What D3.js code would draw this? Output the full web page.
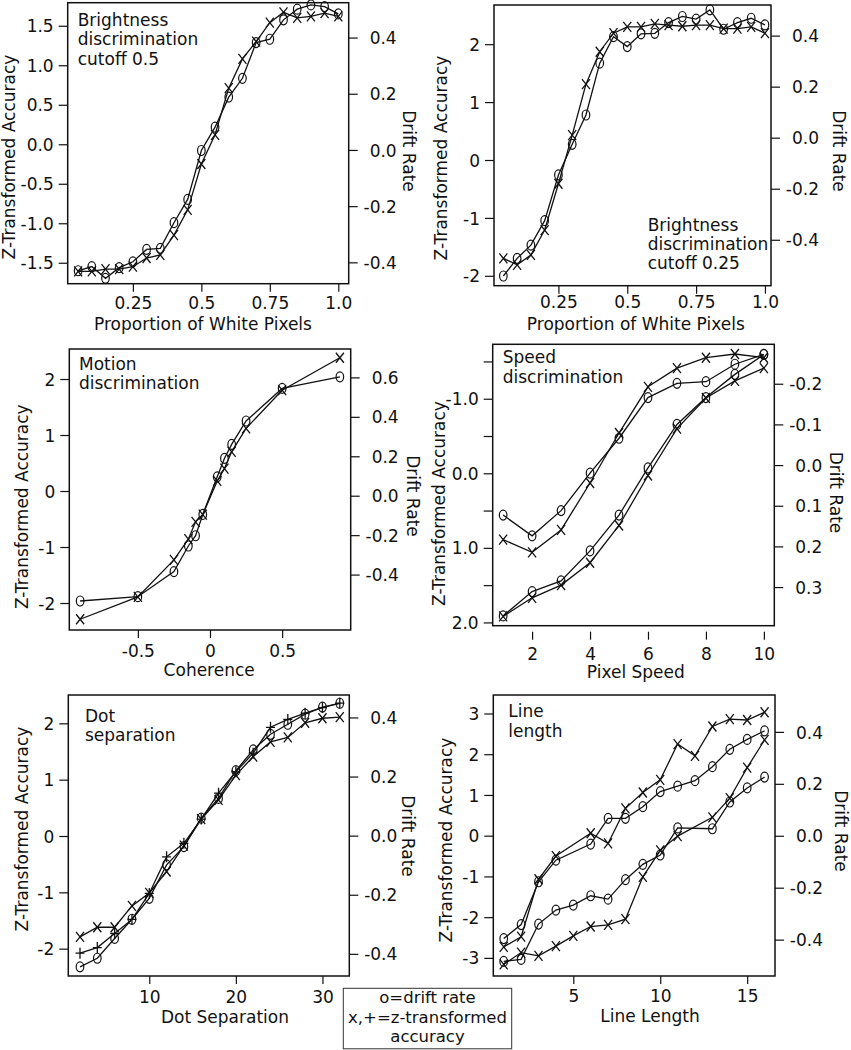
<!DOCTYPE html>
<html><head><meta charset="utf-8">
<script src="https://cdn.jsdelivr.net/npm/d3@7"></script>
<style>
body{margin:0;background:#fff;}
svg text{font-family:"DejaVu Sans",Verdana,sans-serif;fill:#111;}
</style></head><body>
<svg id="chart" width="851" height="1050"></svg>
<script>
// ---------------- DATA ----------------
const brightX = [0.05,0.10,0.15,0.20,0.25,0.30,0.35,0.40,0.45,0.50,0.55,0.60,0.65,0.70,0.75,0.80,0.85,0.90,0.95,1.00];
const bright50Acc   = [-1.61,-1.61,-1.58,-1.58,-1.55,-1.44,-1.40,-1.15,-0.83,-0.25,0.12,0.71,1.08,1.30,1.54,1.67,1.60,1.62,1.66,1.62];
const bright50Drift = [-0.430,-0.415,-0.457,-0.419,-0.398,-0.354,-0.350,-0.259,-0.176,-0.002,0.081,0.188,0.255,0.382,0.394,0.463,0.501,0.516,0.510,0.484];
const bright25Acc   = [-1.70,-1.81,-1.64,-1.21,-0.41,0.43,1.31,1.87,2.19,2.30,2.30,2.35,2.33,2.31,2.33,2.33,2.27,2.27,2.30,2.19];
const bright25Drift = [-0.542,-0.473,-0.421,-0.325,-0.146,-0.026,0.089,0.292,0.396,0.357,0.407,0.409,0.451,0.475,0.465,0.501,0.425,0.451,0.468,0.442];

const coherenceX  = [-0.9,-0.5,-0.25,-0.15,-0.1,-0.05,0.05,0.1,0.15,0.25,0.5,0.9];
const motionAcc   = [-2.29,-1.89,-1.23,-0.86,-0.55,-0.42,0.18,0.40,0.70,1.12,1.80,2.38];
const motionDrift = [-0.534,-0.512,-0.385,-0.255,-0.203,-0.095,0.096,0.189,0.260,0.379,0.544,0.603];

const speedX      = [1,2,3,4,5,6,7,8,9,10];
const speedAccA   = [0.89,1.06,0.76,0.13,-0.54,-1.16,-1.41,-1.55,-1.60,-1.55];
const speedDriftA = [0.123,0.174,0.112,0.020,-0.066,-0.166,-0.201,-0.205,-0.248,-0.272];
const speedAccB   = [1.92,1.67,1.50,1.20,0.70,0.03,-0.60,-1.01,-1.24,-1.41];
const speedDriftB = [0.371,0.311,0.285,0.211,0.123,0.007,-0.100,-0.166,-0.223,-0.272];

const dotX       = [2,4,6,8,10,12,14,16,18,20,22,24,26,28,30,32];
const dotAccX    = [-1.79,-1.62,-1.62,-1.24,-1.01,-0.63,-0.17,0.30,0.64,1.08,1.41,1.67,1.75,2.01,2.09,2.11];
const dotAccPlus = [-2.08,-1.98,-1.73,-1.48,-1.02,-0.37,-0.13,0.30,0.76,1.14,1.47,1.93,2.07,2.18,2.28,2.36];
const dotDrift   = [-0.444,-0.415,-0.348,-0.283,-0.212,-0.099,-0.037,0.059,0.126,0.220,0.290,0.343,0.377,0.411,0.435,0.448];

const lineXA     = [1,2,3,4,6,7,8,9,10,11,12,13,14,15,16];
const lineAccA   = [-2.73,-2.48,-1.07,-0.50,0.06,-0.19,0.67,1.06,1.37,2.25,1.96,2.68,2.86,2.84,3.03];
const lineDriftA = [-0.396,-0.342,-0.177,-0.094,-0.032,0.067,0.067,0.112,0.170,0.191,0.212,0.266,0.333,0.371,0.404];
const lineXB     = [1,2,3,4,5,6,7,8,9,10,11,13,14,15,16];
const lineAccB   = [-3.16,-2.87,-2.95,-2.71,-2.46,-2.23,-2.19,-2.05,-1.01,-0.36,-0.01,0.45,0.92,1.67,2.35];
const lineDriftB = [-0.484,-0.476,-0.340,-0.286,-0.267,-0.231,-0.244,-0.169,-0.110,-0.074,0.030,0.027,0.130,0.184,0.226];

// ---------------- TICKS ----------------
const ticksBrightX = [0.25,0.5,0.75,1.0];       const labelsBrightX = ["0.25","0.5","0.75","1.0"];
const ticksP1L = [-1.5,-1,-0.5,0,0.5,1,1.5];    const labelsP1L = ["-1.5","-1.0","-0.5","0.0","0.5","1.0","1.5"];
const ticksInt2 = [-2,-1,0,1,2];                const labelsInt2 = ["-2","-1","0","1","2"];
const ticksDrift4 = [-0.4,-0.2,0,0.2,0.4];      const labelsDrift4 = ["-0.4","-0.2","0.0","0.2","0.4"];
const ticksDrift6 = [-0.4,-0.2,0,0.2,0.4,0.6];  const labelsDrift6 = ["-0.4","-0.2","0.0","0.2","0.4","0.6"];
const ticksCohX = [-0.5,0,0.5];                 const labelsCohX = ["-0.5","0","0.5"];
const ticksSpeedL = [-1.5,-1,-0.5,0,0.5,1,1.5,2]; const labelsSpeedL = ["","-1.0","","0.0","","1.0","","2.0"];
const ticksSpeedR = [-0.2,-0.1,0,0.1,0.2,0.3];  const labelsSpeedR = ["-0.2","-0.1","0.0","0.1","0.2","0.3"];
const ticksSpeedX = [2,4,6,8,10];               const labelsSpeedX = ["2","4","6","8","10"];
const ticksDotX = [10,20,30];                   const labelsDotX = ["10","20","30"];
const ticksLineL = [-3,-2,-1,0,1,2,3];          const labelsLineL = ["-3","-2","-1","0","1","2","3"];
const ticksLineX = [5,10,15];                   const labelsLineX = ["5","10","15"];

const legendLines = ["o=drift rate","x,+=z-transformed","accuracy"];

// ---------------- PANELS ----------------
const panels = [
  { box:{x0:67.7,x1:348.7,y0:2.7,y1:283.7}, xDom:[0.012,1.038], yL:[-1.765,1.792], yR:[-0.476,0.524],
    xt:[ticksBrightX,labelsBrightX], lt:[ticksP1L,labelsP1L], rt:[ticksDrift4,labelsDrift4],
    series:[{x:brightX,y:bright50Acc,ax:"L",m:"x"},{x:brightX,y:bright50Drift,ax:"R",m:"o"}],
    xTitle:"Proportion of White Pixels", xTitlePos:[203,330], xLabY:309,
    lTitlePos:[15,157], rTitlePos:[403,151],
    note:["Brightness","discrimination","cutoff 0.5"], notePos:[77.7,26] },
  { box:{x0:494,x1:771,y0:5,y1:285.7}, xDom:[0.016,1.022], yL:[-2.171,2.677], yR:[-0.580,0.520],
    xt:[ticksBrightX,labelsBrightX], lt:[ticksInt2,labelsInt2], rt:[ticksDrift4,labelsDrift4],
    series:[{x:brightX,y:bright25Acc,ax:"L",m:"x"},{x:brightX,y:bright25Drift,ax:"R",m:"o"}],
    xTitle:"Proportion of White Pixels", xTitlePos:[635.8,330], xLabY:308.5,
    lTitlePos:[446.7,158], rTitlePos:[833.3,151],
    note:["Brightness","discrimination","cutoff 0.25"], notePos:[647.7,230.7] },
  { box:{x0:69.3,x1:350.7,y0:349,y1:630}, xDom:[-0.975,0.975], yL:[-2.482,2.536], yR:[-0.681,0.744],
    xt:[ticksCohX,labelsCohX], lt:[ticksInt2,labelsInt2], rt:[ticksDrift6,labelsDrift6],
    series:[{x:coherenceX,y:motionAcc,ax:"L",m:"x"},{x:coherenceX,y:motionDrift,ax:"R",m:"o"}],
    xTitle:"Coherence", xTitlePos:[209.2,675.5], xLabY:656.7,
    lTitlePos:[28,506.7], rTitlePos:[406.7,496],
    note:["Motion","discrimination"], notePos:[79,370] },
  { box:{x0:492.7,x1:774.3,y0:344.3,y1:625.7}, xDom:[0.64,10.36], yL:[2.044,-1.730], yR:[0.395,-0.297],
    xt:[ticksSpeedX,labelsSpeedX], lt:[ticksSpeedL,labelsSpeedL], rt:[ticksSpeedR,labelsSpeedR], xOffset:6,
    series:[{x:speedX,y:speedAccA,ax:"L",m:"x"},{x:speedX,y:speedDriftA,ax:"R",m:"o"},
            {x:speedX,y:speedAccB,ax:"L",m:"x"},{x:speedX,y:speedDriftB,ax:"R",m:"o"}],
    xTitle:"Pixel Speed", xTitlePos:[635.8,678], xLabY:660,
    lTitlePos:[444.5,503.5], rTitlePos:[830,492.5],
    note:["Speed","discrimination"], notePos:[502.7,363.3] },
  { box:{x0:68.3,x1:349.3,y0:695,y1:976}, xDom:[0.65,33.1], yL:[-2.485,2.503], yR:[-0.475,0.476],
    xt:[ticksDotX,labelsDotX], lt:[ticksInt2,labelsInt2], rt:[ticksDrift4,labelsDrift4],
    series:[{x:dotX,y:dotAccX,ax:"L",m:"x"},{x:dotX,y:dotAccPlus,ax:"L",m:"+"},{x:dotX,y:dotDrift,ax:"R",m:"o"}],
    xTitle:"Dot Separation", xTitlePos:[225,1022.5], xLabY:1002.7,
    lTitlePos:[28,829], rTitlePos:[401.7,836],
    note:["Dot","separation"], notePos:[85,721.7] },
  { box:{x0:493.3,x1:775,y0:695,y1:976}, xDom:[0.4,16.6], yL:[-3.445,3.454], yR:[-0.540,0.542],
    xt:[ticksLineX,labelsLineX], lt:[ticksLineL,labelsLineL], rt:[ticksDrift4,labelsDrift4],
    series:[{x:lineXA,y:lineAccA,ax:"L",m:"x"},{x:lineXA,y:lineDriftA,ax:"R",m:"o"},
            {x:lineXB,y:lineAccB,ax:"L",m:"x"},{x:lineXB,y:lineDriftB,ax:"R",m:"o"}],
    xTitle:"Line Length", xTitlePos:[650,1021.5], xLabY:1001.7,
    lTitlePos:[451.7,840], rTitlePos:[834.5,831],
    note:["Line","length"], notePos:[508.3,717.3] }
];

const svg = d3.select("#chart");
const FS = 17;
const ink = "#111";

function styleAxis(g){
  g.select(".domain").remove();
  g.selectAll(".tick line").attr("stroke", ink).attr("stroke-width", 1.2);
  g.selectAll(".tick text").attr("font-size", FS).attr("fill", ink)
    .attr("font-family", "DejaVu Sans, Verdana, sans-serif");
}

panels.forEach(p => {
  const b = p.box;
  const g = svg.append("g");
  const x = d3.scaleLinear().domain(p.xDom).range([b.x0, b.x1]);
  const yL = d3.scaleLinear().domain(p.yL).range([b.y1, b.y0]);
  const yR = d3.scaleLinear().domain(p.yR).range([b.y1, b.y0]);

  // left axis
  const la = g.append("g").attr("transform", `translate(${b.x0},0)`)
    .call(d3.axisLeft(yL).tickValues(p.lt[0]).tickFormat((d,i)=>p.lt[1][i]).tickSize(9).tickPadding(5));
  styleAxis(la);
  la.selectAll(".tick text").attr("dy", "0.36em");

  // right axis
  const ra = g.append("g").attr("transform", `translate(${b.x1},0)`)
    .call(d3.axisRight(yR).tickValues(p.rt[0]).tickFormat((d,i)=>p.rt[1][i]).tickSize(9).tickPadding(5));
  styleAxis(ra);
  ra.selectAll(".tick text").attr("text-anchor", "end").attr("x", 48).attr("dy", "0.36em");

  // bottom axis
  const off = p.xOffset || 0;
  const ba = g.append("g").attr("transform", `translate(0,${b.y1 + off})`)
    .call(d3.axisBottom(x).tickValues(p.xt[0]).tickFormat((d,i)=>p.xt[1][i]).tickSize(8).tickPadding(4));
  styleAxis(ba);
  ba.selectAll(".tick text").attr("dy", null).attr("y", p.xLabY - b.y1 - off);

  // box
  g.append("rect").attr("x", b.x0).attr("y", b.y0).attr("width", b.x1 - b.x0).attr("height", b.y1 - b.y0)
    .attr("fill", "none").attr("stroke", ink).attr("stroke-width", 1.5);

  // series
  p.series.forEach(s => {
    const ys = s.ax === "L" ? yL : yR;
    const pts = s.x.map((xv, i) => [x(xv), ys(s.y[i])]);
    g.append("path").attr("d", d3.line()(pts)).attr("fill", "none")
      .attr("stroke", ink).attr("stroke-width", 1.3);
    const mg = g.append("g");
    pts.forEach(([px, py]) => {
      if (s.m === "o") {
        mg.append("ellipse").attr("cx", px).attr("cy", py).attr("rx", 3.8).attr("ry", 5)
          .attr("fill", "none").attr("stroke", ink).attr("stroke-width", 1.2);
      } else if (s.m === "x") {
        mg.append("path").attr("d", `M${px-4},${py-5}L${px+4},${py+5}M${px-4},${py+5}L${px+4},${py-5}`)
          .attr("stroke", ink).attr("stroke-width", 1.3).attr("fill", "none");
      } else {
        mg.append("path").attr("d", `M${px-4.5},${py}L${px+4.5},${py}M${px},${py-5.5}L${px},${py+5.5}`)
          .attr("stroke", ink).attr("stroke-width", 1.3).attr("fill", "none");
      }
    });
  });

  // titles
  g.append("text").attr("x", p.xTitlePos[0]).attr("y", p.xTitlePos[1]).attr("text-anchor", "middle")
    .attr("font-size", FS).text(p.xTitle);
  g.append("text").attr("transform", `translate(${p.lTitlePos[0]},${p.lTitlePos[1]}) rotate(-90)`)
    .attr("text-anchor", "middle").attr("font-size", FS).text("Z-Transformed Accuracy");
  g.append("text").attr("transform", `translate(${p.rTitlePos[0]},${p.rTitlePos[1]}) rotate(90)`)
    .attr("text-anchor", "middle").attr("font-size", FS).text("Drift Rate");

  // annotation
  p.note.forEach((t, i) => {
    g.append("text").attr("x", p.notePos[0]).attr("y", p.notePos[1] + i * 19.3)
      .attr("font-size", FS).text(t);
  });
});

// legend
const lg = svg.append("g");
lg.append("rect").attr("x", 343.3).attr("y", 988.3).attr("width", 168.4).attr("height", 60.5)
  .attr("fill", "#fff").attr("stroke", "#333").attr("stroke-width", 1);
legendLines.forEach((t, i) => {
  lg.append("text").attr("x", 427.5).attr("y", 1003.3 + i * 19.2).attr("text-anchor", "middle")
    .attr("font-size", 16.5).text(t);
});
</script>
</body></html>
